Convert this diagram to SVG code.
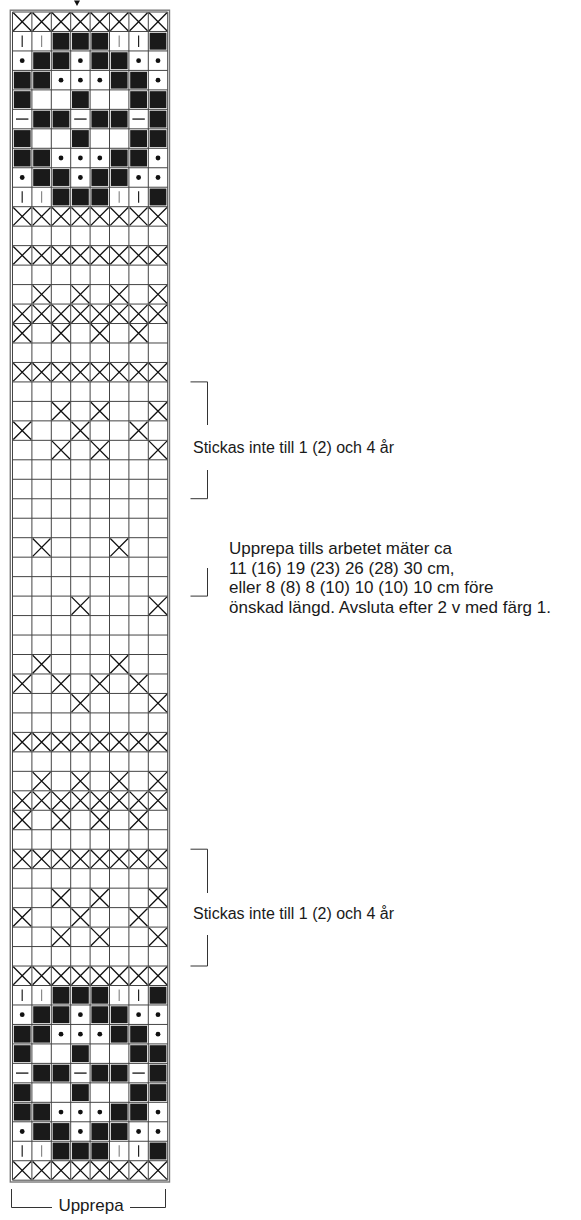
<svg xmlns="http://www.w3.org/2000/svg" xmlns:xlink="http://www.w3.org/1999/xlink" width="581" height="1220" viewBox="0 0 581 1220">
<style>
.xs{stroke:#111;stroke-width:1.3;fill:none}
.bk{fill:#1a1a1a}
.dot{fill:#111}
.dash{stroke:#333;stroke-width:1.5}
.vd{stroke:#222;stroke-width:1.2}
.vl{stroke:#8a8a8a;stroke-width:1.2}
.grid{stroke:#444;stroke-width:1;fill:none}
.frame{stroke:#777;stroke-width:1.4;fill:none}
.br{stroke:#333;stroke-width:1;fill:none}
.lbl{font-family:"Liberation Sans",Arial,sans-serif;font-size:17px;fill:#1a1a1a}
.note{font-size:16px}
</style>
<defs>
<path id="x" class="xs" d="M0.8,0.8 L18.6,18.67 M18.6,0.8 L0.8,18.67"/>
<rect id="b" class="bk" x="1.3" y="1.3" width="16.8" height="16.9"/>
<circle id="o" class="dot" cx="9.7" cy="9.73" r="2.4"/>
<line id="h" class="dash" x1="3.5" y1="9.73" x2="15.9" y2="9.73"/>
<line id="vd" class="vd" x1="9.7" y1="4" x2="9.7" y2="15.5"/>
<line id="vl" class="vl" x1="9.7" y1="4" x2="9.7" y2="15.5"/>
<g id="rowX"><use href="#x" x="0"/><use href="#x" x="19.4"/><use href="#x" x="38.8"/><use href="#x" x="58.2"/><use href="#x" x="77.6"/><use href="#x" x="97"/><use href="#x" x="116.4"/><use href="#x" x="135.8"/></g>
<g id="r2"><use href="#vd" x="0"/><use href="#vl" x="19.4"/><use href="#b" x="38.8"/><use href="#b" x="58.2"/><use href="#b" x="77.6"/><use href="#vl" x="97"/><use href="#vd" x="116.4"/><use href="#b" x="135.8"/></g>
<g id="r3"><use href="#o" x="0"/><use href="#b" x="19.4"/><use href="#b" x="38.8"/><use href="#o" x="58.2"/><use href="#b" x="77.6"/><use href="#b" x="97"/><use href="#o" x="116.4"/><use href="#o" x="135.8"/></g>
<g id="r4"><use href="#b" x="0"/><use href="#b" x="19.4"/><use href="#o" x="38.8"/><use href="#o" x="58.2"/><use href="#o" x="77.6"/><use href="#b" x="97"/><use href="#b" x="116.4"/><use href="#o" x="135.8"/></g>
<g id="r5"><use href="#b" x="0"/><use href="#b" x="58.2"/><use href="#b" x="116.4"/><use href="#b" x="135.8"/></g>
<g id="r6"><use href="#h" x="0"/><use href="#b" x="19.4"/><use href="#b" x="38.8"/><use href="#h" x="58.2"/><use href="#b" x="77.6"/><use href="#b" x="97"/><use href="#h" x="116.4"/><use href="#b" x="135.8"/></g>
<g id="band"><use href="#r2" y="0"/><use href="#r3" y="19.47"/><use href="#r4" y="38.94"/><use href="#r5" y="58.41"/><use href="#r6" y="77.88"/><use href="#r5" y="97.35"/><use href="#r4" y="116.82"/><use href="#r3" y="136.29"/><use href="#r2" y="155.76"/></g>
<g id="pA"><use href="#x" x="19.4"/><use href="#x" x="58.2"/><use href="#x" x="97"/><use href="#x" x="135.8"/></g>
<g id="pB"><use href="#x" x="0"/><use href="#x" x="38.8"/><use href="#x" x="77.6"/><use href="#x" x="116.4"/></g>
<g id="pC"><use href="#x" x="38.8"/><use href="#x" x="77.6"/><use href="#x" x="135.8"/></g>
<g id="pD"><use href="#x" x="0"/><use href="#x" x="58.2"/><use href="#x" x="116.4"/></g>
<g id="pE"><use href="#x" x="19.4"/><use href="#x" x="97"/></g>
<g id="pF"><use href="#x" x="58.2"/><use href="#x" x="135.8"/></g>
</defs>

<g id="chart">
<rect class="frame" x="10.3" y="10.2" width="159.2" height="1171.8"/>
<path class="grid" d="M12.5 12V1180.2M31.9 12V1180.2M51.3 12V1180.2M70.7 12V1180.2M90.1 12V1180.2M109.5 12V1180.2M128.9 12V1180.2M148.3 12V1180.2M167.7 12V1180.2
M12.5 12H167.7M12.5 31.47H167.7M12.5 50.94H167.7M12.5 70.41H167.7M12.5 89.88H167.7M12.5 109.35H167.7M12.5 128.82H167.7M12.5 148.29H167.7M12.5 167.76H167.7M12.5 187.23H167.7
M12.5 206.7H167.7M12.5 226.17H167.7M12.5 245.64H167.7M12.5 265.11H167.7M12.5 284.58H167.7M12.5 304.05H167.7M12.5 323.52H167.7M12.5 342.99H167.7M12.5 362.46H167.7M12.5 381.93H167.7
M12.5 401.4H167.7M12.5 420.87H167.7M12.5 440.34H167.7M12.5 459.81H167.7M12.5 479.28H167.7M12.5 498.75H167.7M12.5 518.22H167.7M12.5 537.69H167.7M12.5 557.16H167.7M12.5 576.63H167.7
M12.5 596.1H167.7M12.5 615.57H167.7M12.5 635.04H167.7M12.5 654.51H167.7M12.5 673.98H167.7M12.5 693.45H167.7M12.5 712.92H167.7M12.5 732.39H167.7M12.5 751.86H167.7M12.5 771.33H167.7
M12.5 790.8H167.7M12.5 810.27H167.7M12.5 829.74H167.7M12.5 849.21H167.7M12.5 868.68H167.7M12.5 888.15H167.7M12.5 907.62H167.7M12.5 927.09H167.7M12.5 946.56H167.7M12.5 966.03H167.7
M12.5 985.5H167.7M12.5 1004.97H167.7M12.5 1024.44H167.7M12.5 1043.91H167.7M12.5 1063.38H167.7M12.5 1082.85H167.7M12.5 1102.32H167.7M12.5 1121.79H167.7M12.5 1141.26H167.7M12.5 1160.73H167.7M12.5 1180.2H167.7"/>
<g id="cells" transform="translate(12.5,0)">
<use href="#rowX" y="12"/>
<use href="#band" y="31.47"/>
<use href="#rowX" y="206.7"/>
<use href="#rowX" y="245.64"/>
<use href="#pA" y="284.58"/>
<use href="#rowX" y="304.05"/>
<use href="#pB" y="323.52"/>
<use href="#rowX" y="362.46"/>
<use href="#pC" y="401.4"/>
<use href="#pD" y="420.87"/>
<use href="#pC" y="440.34"/>
<use href="#pE" y="537.69"/>
<use href="#pF" y="596.1"/>
<use href="#pE" y="654.51"/>
<use href="#pB" y="673.98"/>
<use href="#pF" y="693.45"/>
<use href="#rowX" y="732.39"/>
<use href="#pA" y="771.33"/>
<use href="#rowX" y="790.8"/>
<use href="#pB" y="810.27"/>
<use href="#rowX" y="849.21"/>
<use href="#pC" y="888.15"/>
<use href="#pD" y="907.62"/>
<use href="#pC" y="927.09"/>
<use href="#rowX" y="966.03"/>
<use href="#band" y="985.5"/>
<use href="#rowX" y="1160.73"/>
</g>
</g>

<g id="start-arrow">
<polygon points="74,0.5 80,0.5 77,6" fill="#111"/>
</g>

<g id="connectors">
<path class="br" d="M190.5 381.9H207.5V425M207.5 470V498.7H190.5M207.5 568V596.1H190.5"/>
<path class="br" d="M190.5 849.2H207.5V893M207.5 935V966H190.5"/>
<path class="br" d="M11.5 1189V1207.5H52M130 1207.5H165.5V1189"/>
</g>

<g id="note-top">
<text class="lbl note" x="193" y="452.5">Stickas inte till 1 (2) och 4 år</text>
</g>
<g id="note-repeat">
<text class="lbl" x="229" y="554">Upprepa tills arbetet mäter ca</text>
<text class="lbl" x="229" y="573.5">11 (16) 19 (23) 26 (28) 30 cm,</text>
<text class="lbl" x="229" y="593">eller 8 (8) 8 (10) 10 (10) 10 cm före</text>
<text class="lbl" x="229" y="612.5">önskad längd. Avsluta efter 2 v med färg 1.</text>
</g>
<g id="note-bottom">
<text class="lbl note" x="193" y="918.5">Stickas inte till 1 (2) och 4 år</text>
</g>
<g id="repeat-label">
<text class="lbl" x="91" y="1211" text-anchor="middle">Upprepa</text>
</g>
</svg>
